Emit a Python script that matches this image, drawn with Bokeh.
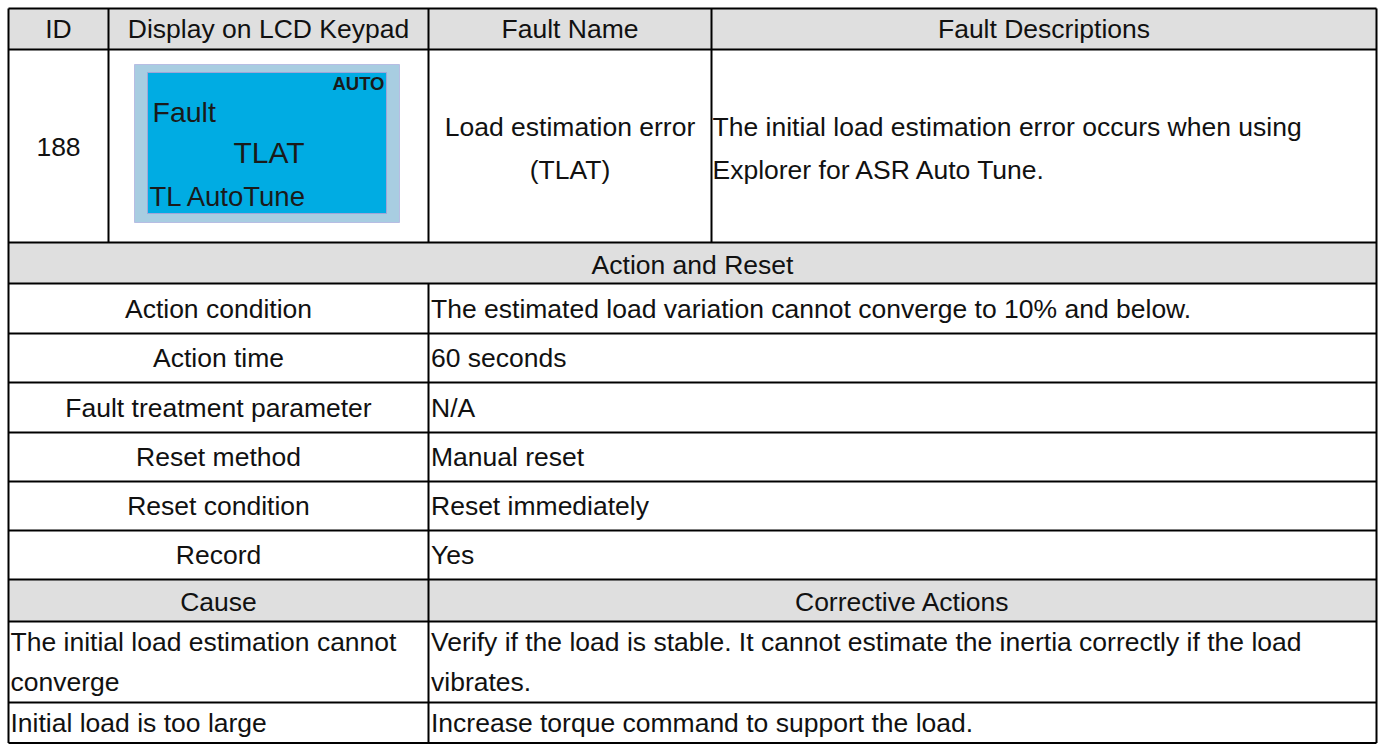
from bokeh.plotting import figure
from bokeh.models import Range1d
from bokeh.core.properties import value
from bokeh.embed import file_html
from bokeh.resources import INLINE

# ---------------- data (table content) ----------------
header_labels = ["ID", "Display on LCD Keypad", "Fault Name", "Fault Descriptions"]
fault_id = "188"
lcd_badge = "AUTO"
lcd_lines = ["Fault", "TLAT", "TL AutoTune"]
fault_name_lines = ["Load estimation error", "(TLAT)"]
description_lines = ["The initial load estimation error occurs when using",
                     "Explorer for ASR Auto Tune."]
section_title = "Action and Reset"
action_items = ["Action condition", "Action time", "Fault treatment parameter",
                "Reset method", "Reset condition", "Record"]
action_values = ["The estimated load variation cannot converge to 10% and below.",
                 "60 seconds", "N/A", "Manual reset", "Reset immediately", "Yes"]
cause_header = ["Cause", "Corrective Actions"]
causes = [["The initial load estimation cannot", "converge"],
          ["Initial load is too large"]]
corrective = [["Verify if the load is stable. It cannot estimate the inertia correctly if the load",
               "vibrates."],
              ["Increase torque command to support the load."]]

# ---------------- layout (pixels) ----------------
W, H = 1379, 744
col_edges = [8, 108, 428, 711, 1376]
row_edges = [8, 49, 242, 283, 333, 382, 432, 481, 530, 579, 621, 702, 742.5]
FONT = value("Liberation Sans")
FSZ = 26.5
TXT = "#111111"
GRAY = "#DFDFDF"
BASE_K = 0.385  # renderer baseline correction (fraction of font size)

p = figure(width=W, height=H, output_backend="svg", toolbar_location=None,
           x_range=Range1d(0, W), y_range=Range1d(H, 0),
           x_axis_location=None, y_axis_location=None, min_border=0)
p.grid.visible = False
p.outline_line_color = None
p.background_fill_color = "white"
p.border_fill_color = "white"

left, right = col_edges[0], col_edges[-1]
mid = col_edges[2]

# gray header rows
gray_rows = [(row_edges[0], row_edges[1]), (row_edges[2], row_edges[3]), (row_edges[9], row_edges[10])]
p.quad(left=[left] * 3, right=[right] * 3,
       top=[a for a, b in gray_rows], bottom=[b for a, b in gray_rows],
       fill_color=GRAY, line_color=None)

# LCD panel
p.quad(left=[134], right=[399], top=[64], bottom=[222],
       fill_color="#A8CDE1", line_color="#B7BDE3", line_width=1)
p.quad(left=[147], right=[386], top=[72], bottom=[213],
       fill_color="#00ACE3", line_color="#9FA6D8", line_width=1)

# grid lines
x0s, y0s, x1s, y1s = [], [], [], []
for r in row_edges:
    x0s.append(left); x1s.append(right); y0s.append(r); y1s.append(r)
for c in (left, right):
    x0s.append(c); x1s.append(c); y0s.append(row_edges[0]); y1s.append(row_edges[-1])
for c in col_edges[1:4]:
    x0s.append(c); x1s.append(c); y0s.append(row_edges[0]); y1s.append(row_edges[2])
x0s.append(mid); x1s.append(mid); y0s.append(row_edges[3]); y1s.append(row_edges[-1])
p.segment(x0=x0s, y0=y0s, x1=x1s, y1=y1s, line_color="black", line_width=2)


def put(xs, ys, texts, align="center", size=FSZ, style="normal", color=TXT):
    corr = BASE_K * size
    p.text(x=list(xs), y=[v - corr for v in ys], text=texts,
           text_font=FONT, text_font_size=f"{size}px", text_font_style=style,
           text_color=color, text_align=align, text_baseline="alphabetic")


# header row
centers = [(col_edges[i] + col_edges[i + 1]) / 2 for i in range(4)]
put(centers, [39] * 4, header_labels)

# main fault row
rc = (row_edges[1] + row_edges[2]) / 2
put([centers[0]], [rc + 11.5], [fault_id])
put([centers[2]] * 2, [rc + 13 - 21.5, rc + 13 + 21.5], fault_name_lines)
put([col_edges[3] + 1] * 2, [rc + 13 - 21.5, rc + 13 + 21.5], description_lines, align="left")

# LCD text
put([384], [90], [lcd_badge], align="right", size=18.5, style="bold", color="#1a1a1a")
put([152], [122], [lcd_lines[0]], align="left", size=28.5, color="#1a1a1a")
put([233], [164], [lcd_lines[1]], align="left", size=30, color="#1a1a1a")
put([149], [207], [lcd_lines[2]], align="left", size=27.5, color="#1a1a1a")

# section title
put([(left + right) / 2], [row_edges[3] - 8], [section_title])

# action rows
sec_l = (left + mid) / 2
ab = [row_edges[4 + i] - 14.5 for i in range(len(action_items))]
put([sec_l] * len(action_items), ab, action_items)
put([mid + 2.5] * len(action_values), ab, action_values, align="left")

# cause header
put([sec_l, (mid + right) / 2], [row_edges[10] - 9] * 2, cause_header)

# cause rows
for i in range(len(causes)):
    top = row_edges[10 + i]
    ys = [top + 31 + 40 * k for k in range(len(causes[i]))]
    put([left + 2] * len(ys), ys, causes[i], align="left")
    ys2 = [top + 31 + 40 * k for k in range(len(corrective[i]))]
    put([mid + 2.5] * len(ys2), ys2, corrective[i], align="left")

open("out.html", "w").write(file_html(p, INLINE))
